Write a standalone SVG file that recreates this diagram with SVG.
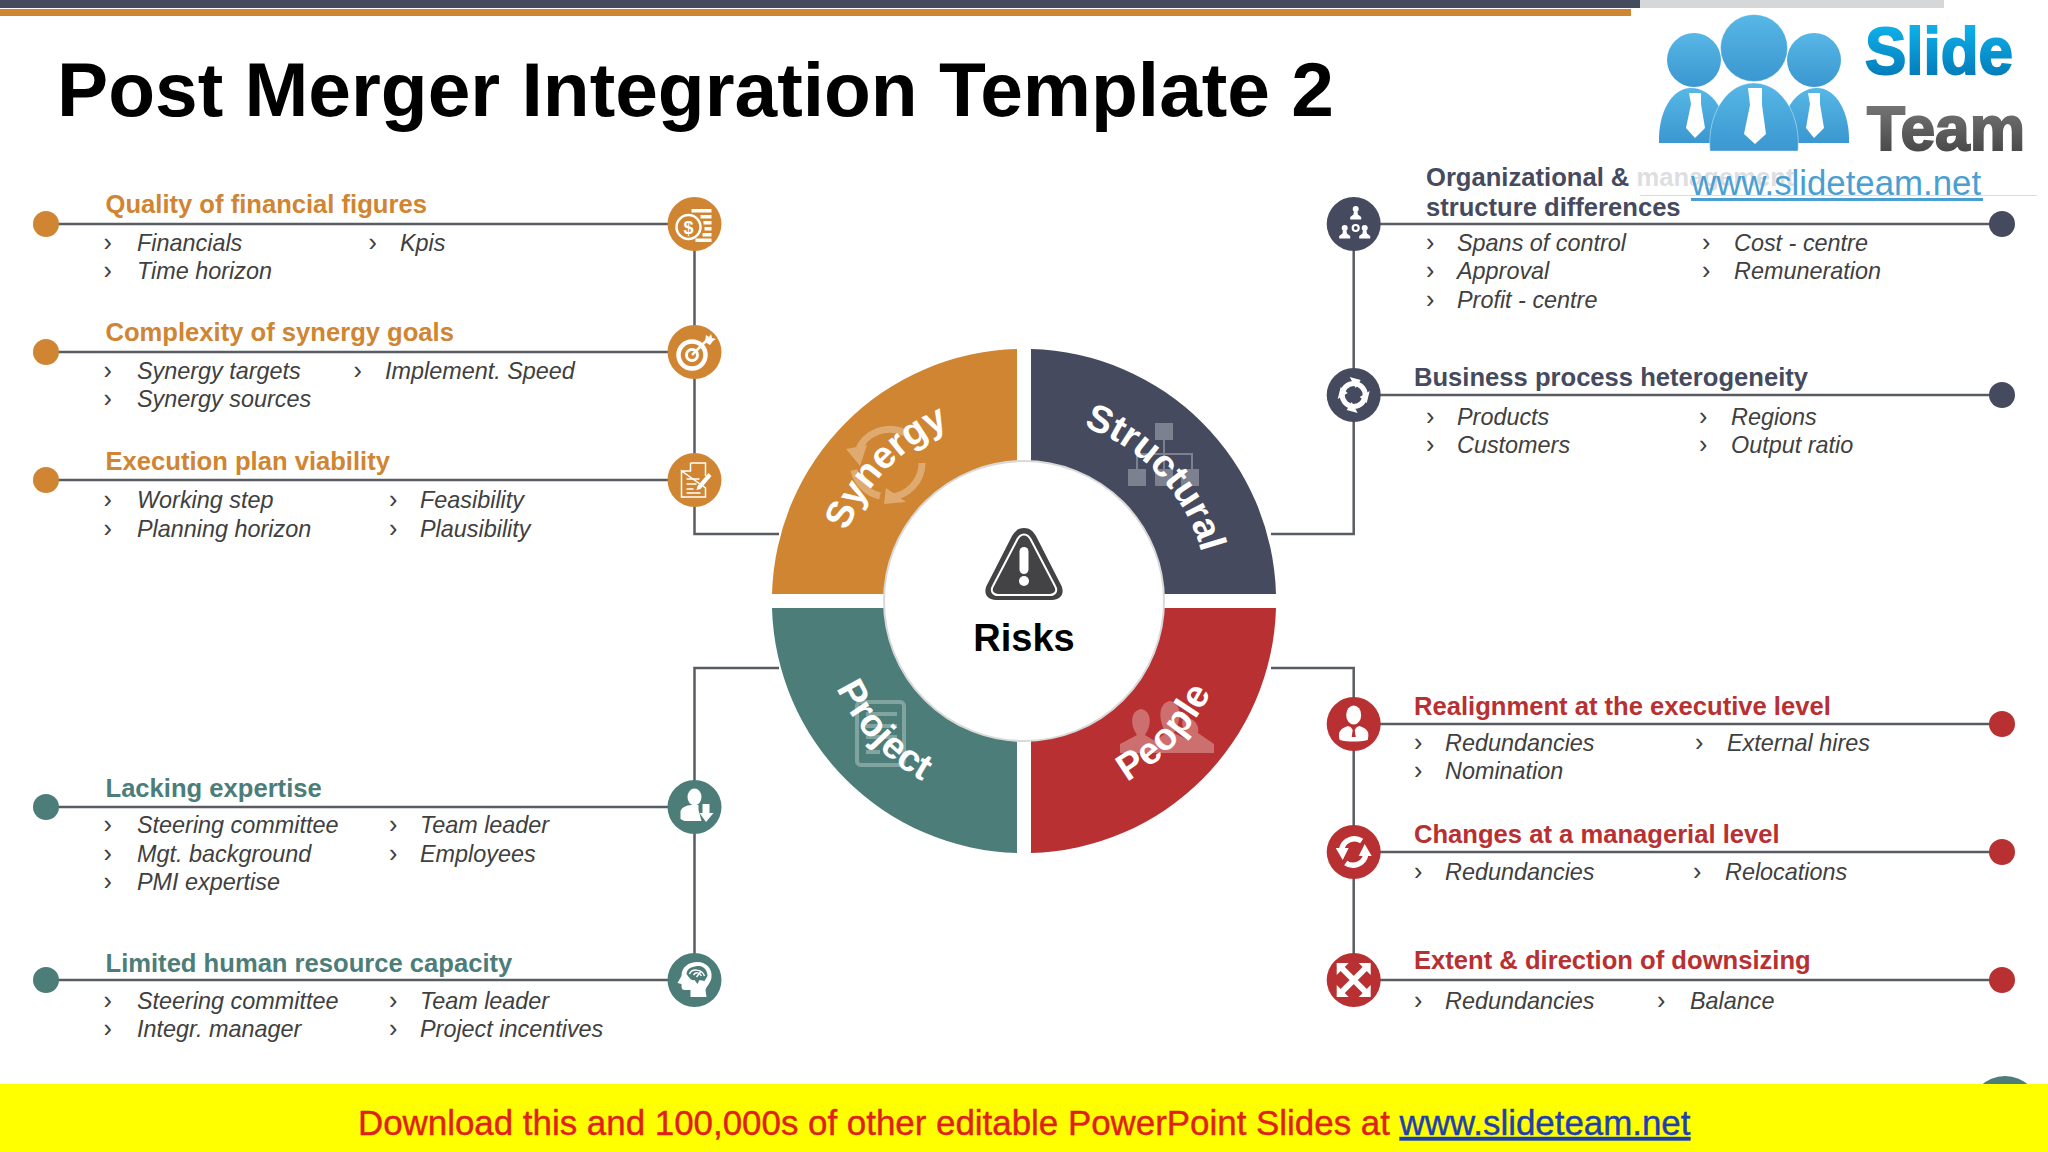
<svg xmlns="http://www.w3.org/2000/svg" width="2048" height="1152" viewBox="0 0 2048 1152">
<defs>
<linearGradient id="gS" x1="0" y1="0" x2="0" y2="1"><stop offset="0" stop-color="#12bdf5"/><stop offset="1" stop-color="#0070ae"/></linearGradient>
<linearGradient id="gT" x1="0" y1="0" x2="0" y2="1"><stop offset="0" stop-color="#808080"/><stop offset="1" stop-color="#3f3f3f"/></linearGradient>
<linearGradient id="gB" x1="0" y1="0" x2="0" y2="1"><stop offset="0" stop-color="#57b7e6"/><stop offset="1" stop-color="#3b97d0"/></linearGradient>
<path id="arcSyn" d="M834 601A190 190 0 0 1 1024 411"/>
<path id="arcStr" d="M1024 417A184 184 0 0 1 1208 601"/>
<path id="arcPro" d="M817 601A207 207 0 0 0 1024 808"/>
<path id="arcPeo" d="M1024 809A208 208 0 0 0 1232 601"/>
<g id="pers"><circle cx="0" cy="-6" r="3"/><path d="M-1.800-3.500H1.800L2.200-.5L5.500 2V4.500H-5.500V2L-2.200-.5Z"/></g>
</defs>
<style>
text{font-family:"Liberation Sans",Arial,sans-serif}
.h{font-weight:700;font-size:25.6px}
.org{fill:#d08532}.tea{fill:#4c7d78}.dar{fill:#454a5e}.red{fill:#b83031}
.s{font-style:italic;font-size:23.4px;fill:#404040}
.c{font-size:25px;fill:#404040}
.ln{stroke:#5a5c64;stroke-width:2.500;fill:none}
.w{fill:#fff}.wl{fill:none;stroke:#fff}
.r2{font-weight:700;font-size:38px;fill:#fff}
.wm{opacity:.3}
</style>
<rect width="2048" height="1152" fill="#fff"/>
<rect x="0" y="0" width="1640" height="8" fill="#454a5e"/>
<rect x="1640" y="0" width="304" height="8" fill="#d6d7d9"/>
<rect x="0" y="9" width="1631" height="7" fill="#d08532"/>
<text id="title" x="57" y="116" font-size="76.700" font-weight="700" fill="#000">Post Merger Integration Template 2</text>

<g id="connectors" class="ln">
<path d="M46 224H668M46 352H668M46 480H668M694.500 224V480M694.500 480V534H779"/>
<path d="M46 807H668M46 980H668M694.500 807V980M694.500 807V668H779"/>
<path d="M1380 224H2002M1380 395H2002M1353.700 224V534H1271"/>
<path d="M1380 724H2002M1380 852H2002M1380 980H2002M1353.700 980V668H1271"/>
</g>

<g id="ring">
<path class="org" d="M772 594A252 252 0 0 1 1017 349V461.200A140 140 0 0 0 884.200 594Z"/>
<path class="dar" d="M1276 594A252 252 0 0 0 1031 349V461.200A140 140 0 0 1 1163.800 594Z"/>
<path class="tea" d="M772 608A252 252 0 0 0 1017 853V740.800A140 140 0 0 1 884.200 608Z"/>
<path class="red" d="M1276 608A252 252 0 0 1 1031 853V740.800A140 140 0 0 0 1163.800 608Z"/>
<circle cx="1024" cy="601" r="140" fill="#fff" stroke="#d9d9d9" stroke-width="2"/>
<g class="wm">
<path class="wl" stroke-width="7" d="M858 451A34 34 0 0 1 905 433M922 463A34 34 0 0 1 890 497M880 496A34 34 0 0 1 854 470"/>
<path class="w" d="M846 449L867 445L860 466ZM886 488L906 502L884 504Z"/>
<path class="w" d="M1155 423H1173V440H1155ZM1128 469H1146V486H1128ZM1155 469H1173V486H1155ZM1181 469H1199V486H1181Z"/>
<path class="wl" stroke-width="2" d="M1137 469V454H1192V469M1164 440V469"/>
<rect class="wl" stroke-width="4" x="857" y="702" width="47" height="63" rx="4"/>
<path class="w" d="M866 712H897V716H866ZM866 724H897V728H866ZM866 735H897V739H866ZM866 750H880V754H866Z"/>
<path class="w" d="M1120 753V744L1137 735C1130 725 1130 711 1141 709C1152 711 1152 725 1145 735L1155 741L1150 753ZM1150 753L1155 741L1166 733C1158 720 1158 703 1170 701C1182 703 1182 720 1174 733L1190 741L1198 753ZM1190 741C1186 735 1180 726 1183 719C1192 716 1200 724 1198 733L1214 744V753H1198Z"/>
</g>
<text class="r2"><textPath href="#arcSyn" startOffset="49%" text-anchor="middle">Synergy</textPath></text>
<text class="r2"><textPath href="#arcStr" startOffset="52%" text-anchor="middle">Structural</textPath></text>
<text class="r2"><textPath href="#arcPro" startOffset="47.500%" text-anchor="middle">Project</textPath></text>
<text class="r2"><textPath href="#arcPeo" startOffset="52%" text-anchor="middle">People</textPath></text>
<g id="risks">
<path d="M1024 528C1018 528 1015 531 1012 536L988 583C982 593 987 600 996 600H1052C1061 600 1066 593 1060 583L1036 536C1033 531 1030 528 1024 528Z" fill="#434345"/>
<path d="M1024 534.500C1021 534.500 1019 536 1017 540L993 586C990 591 993 595 998 595H1050C1055 595 1058 591 1055 586L1031 540C1029 536 1027 534.500 1024 534.500Z" fill="none" stroke="#fff" stroke-width="2"/>
<rect x="1019.500" y="547" width="9" height="27" rx="4.500" fill="#fff"/>
<circle cx="1024" cy="581" r="5" fill="#fff"/>
<text x="1024" y="651" text-anchor="middle" font-size="38" font-weight="700" fill="#000">Risks</text>
</g>
</g>

<g id="n-quality">
<circle class="org" cx="46" cy="224" r="13"/><circle class="org" cx="694.500" cy="224" r="27"/>
<g transform="translate(694.500 224)"><circle cx="-6" cy="3" r="12" class="wl" stroke-width="2.500"/><path class="w" d="M-3-15H17V-11.500H-3ZM6-9H17V-5.500H6ZM9-3H17V.5H9ZM10 3H17V6.500H10ZM8 9H17V12.500H8ZM1 14.500H17V18H1Z"/><text x="-6" y="9.500" text-anchor="middle" font-size="18" font-weight="700" fill="#fff">$</text></g>
<text class="h org" x="105.500" y="213">Quality of financial figures</text>
<text class="c" x="103.500" y="251">›</text><text class="s" x="137" y="251">Financials</text>
<text class="c" x="103.500" y="279">›</text><text class="s" x="137" y="279">Time horizon</text>
<text class="c" x="368.500" y="251">›</text><text class="s" x="400" y="251">Kpis</text>
</g>
<g id="n-complexity">
<circle class="org" cx="46" cy="352" r="13"/><circle class="org" cx="694.500" cy="352" r="27"/>
<g transform="translate(692 355)"><circle r="13.500" class="wl" stroke-width="4.500"/><circle r="5.500" class="wl" stroke-width="3"/><path class="wl" stroke-width="2.500" d="M0 0L15-15"/><path class="w" d="M13-13L14-20L17-18L19-21L20-17L24-16L21-14L18-10Z"/></g>
<text class="h org" x="105.500" y="341">Complexity of synergy goals</text>
<text class="c" x="103.500" y="379">›</text><text class="s" x="137" y="379">Synergy targets</text>
<text class="c" x="103.500" y="407">›</text><text class="s" x="137" y="407">Synergy sources</text>
<text class="c" x="353.500" y="379">›</text><text class="s" x="385" y="379">Implement. Speed</text>
</g>
<g id="n-execution">
<circle class="org" cx="46" cy="480" r="13"/><circle class="org" cx="694.500" cy="480" r="27"/>
<g transform="translate(694.500 480)"><path class="wl" stroke-width="1.500" d="M-4-17H11V-4M11 8V17H-13V-9ZM-4-17V-9H-13"/><path class="wl" stroke-width="1.500" d="M-8-1H5M-8 4H2M-8 9H-1M-8 13H6"/><path class="w" d="M3 6L14-7L17-4L6 9L2 10Z"/></g>
<text class="h org" x="105.500" y="470">Execution plan viability</text>
<text class="c" x="103.500" y="508">›</text><text class="s" x="137" y="508">Working step</text>
<text class="c" x="103.500" y="537">›</text><text class="s" x="137" y="537">Planning horizon</text>
<text class="c" x="389" y="508">›</text><text class="s" x="420" y="508">Feasibility</text>
<text class="c" x="389" y="537">›</text><text class="s" x="420" y="537">Plausibility</text>
</g>
<g id="n-lacking">
<circle class="tea" cx="46" cy="807" r="13"/><circle class="tea" cx="694.500" cy="807" r="27"/>
<g transform="translate(694.500 807)"><ellipse class="w" cx="0" cy="-10" rx="7" ry="8.500"/><path class="w" d="M-14 12V5C-14 1-8-2-3-2H4V3L7 14H-10Z"/><path class="w" d="M8-3H15V6H19L11.500 15L5 6H8Z"/></g>
<text class="h tea" x="105.500" y="797">Lacking expertise</text>
<text class="c" x="103.500" y="833">›</text><text class="s" x="137" y="833">Steering committee</text>
<text class="c" x="103.500" y="862">›</text><text class="s" x="137" y="862">Mgt. background</text>
<text class="c" x="103.500" y="890">›</text><text class="s" x="137" y="890">PMI expertise</text>
<text class="c" x="389" y="833">›</text><text class="s" x="420" y="833">Team leader</text>
<text class="c" x="389" y="862">›</text><text class="s" x="420" y="862">Employees</text>
</g>
<g id="n-limited">
<circle class="tea" cx="46" cy="980" r="13"/><circle class="tea" cx="694.500" cy="980" r="27"/>
<g transform="translate(694.500 980)"><path class="w" d="M-4 17V10H-10C-13 10-13 7-13 4L-17 3L-13-4C-13-13-6-18 3-18C12-18 18-11 17-3C17 2 12 6 11 10L12 17Z"/><path fill="#4c7d78" d="M-8-6C-8-12-1-14 5-14C11-13 13-8 13-4L10 1L5 0L3 4L0 0C-3 1-5-2-8-6Z"/><path class="wl" stroke-width="1.500" d="M-5-6C-3-11 7-12 10-4M-1-5C1-8 5-8 7-4M2-3L6-8"/></g>
<text class="h tea" x="105.500" y="971.500">Limited human resource capacity</text>
<text class="c" x="103.500" y="1009">›</text><text class="s" x="137" y="1009">Steering committee</text>
<text class="c" x="103.500" y="1037">›</text><text class="s" x="137" y="1037">Integr. manager</text>
<text class="c" x="389" y="1009">›</text><text class="s" x="420" y="1009">Team leader</text>
<text class="c" x="389" y="1037">›</text><text class="s" x="420" y="1037">Project incentives</text>
</g>
<g id="n-organizational">
<circle class="dar" cx="2002" cy="224" r="13"/><circle class="dar" cx="1353.700" cy="224" r="27"/>
<g transform="translate(1353.700 224)" class="w"><use href="#pers" transform="translate(2 -9)"/><use href="#pers" transform="translate(-9 10)"/><use href="#pers" transform="translate(11 10)"/><circle cx="2" cy="4" r="3" class="wl" stroke-width="2.200"/></g>
<text class="h dar" x="1426" y="186">Organizational &amp; management</text>
<text class="h dar" x="1426" y="216">structure differences</text>
<text class="c" x="1426" y="251">›</text><text class="s" x="1457" y="251">Spans of control</text>
<text class="c" x="1426" y="279">›</text><text class="s" x="1457" y="279">Approval</text>
<text class="c" x="1426" y="308">›</text><text class="s" x="1457" y="308">Profit - centre</text>
<text class="c" x="1702" y="251">›</text><text class="s" x="1734" y="251">Cost - centre</text>
<text class="c" x="1702" y="279">›</text><text class="s" x="1734" y="279">Remuneration</text>
</g>
<g id="n-business">
<circle class="dar" cx="2002" cy="395" r="13"/><circle class="dar" cx="1353.700" cy="395" r="27"/>
<g transform="translate(1353.700 395)"><circle r="11.500" class="wl" stroke-width="5"/><path class="w" d="M-4-18L7-15L2-7ZM16-4L13 8L6 2ZM4 18L-7 15L-2 7ZM-16 4L-13-8L-6-2Z"/></g>
<text class="h dar" x="1414" y="385.500">Business process heterogeneity</text>
<text class="c" x="1426" y="425">›</text><text class="s" x="1457" y="425">Products</text>
<text class="c" x="1426" y="453">›</text><text class="s" x="1457" y="453">Customers</text>
<text class="c" x="1699" y="425">›</text><text class="s" x="1731" y="425">Regions</text>
<text class="c" x="1699" y="453">›</text><text class="s" x="1731" y="453">Output ratio</text>
</g>
<g id="n-realignment">
<circle class="red" cx="2002" cy="724" r="13"/><circle class="red" cx="1353.700" cy="724" r="27"/>
<g transform="translate(1353.700 724)"><ellipse class="w" cx="0" cy="-9" rx="7.500" ry="9.500"/><path class="w" d="M-14 16C-16 8-14 5-6 2L0 4L6 2C14 5 16 8 14 16C6 18-6 18-14 16Z"/><path fill="#b83031" d="M-3 3H3L1 6L2 13H-2L-1 6Z"/></g>
<text class="h red" x="1414" y="715">Realignment at the executive level</text>
<text class="c" x="1414" y="751">›</text><text class="s" x="1445" y="751">Redundancies</text>
<text class="c" x="1414" y="779">›</text><text class="s" x="1445" y="779">Nomination</text>
<text class="c" x="1695" y="751">›</text><text class="s" x="1727" y="751">External hires</text>
</g>
<g id="n-changes">
<circle class="red" cx="2002" cy="852" r="13"/><circle class="red" cx="1353.700" cy="852" r="27"/>
<g transform="translate(1353.700 852)"><path class="wl" stroke-width="5.500" d="M-12-3A13 13 0 0 1 8-11M12 3A13 13 0 0 1-8 11"/><path class="w" d="M-18-4H-5L-11 8ZM18 4H5L11-8Z"/></g>
<text class="h red" x="1414" y="842.500">Changes at a managerial level</text>
<text class="c" x="1414" y="880">›</text><text class="s" x="1445" y="880">Redundancies</text>
<text class="c" x="1693" y="880">›</text><text class="s" x="1725" y="880">Relocations</text>
</g>
<g id="n-extent">
<circle class="red" cx="2002" cy="980" r="13"/><circle class="red" cx="1353.700" cy="980" r="27"/>
<g transform="translate(1353.700 980)"><path class="wl" stroke-width="6" d="M-13-13L13 13M13-13L-13 13"/><path class="w" d="M-17-17H-5L-17-5ZM17-17H5L17-5ZM-17 17H-5L-17 5ZM17 17H5L17 5Z"/></g>
<text class="h red" x="1414" y="969">Extent &amp; direction of downsizing</text>
<text class="c" x="1414" y="1009">›</text><text class="s" x="1445" y="1009">Redundancies</text>
<text class="c" x="1657" y="1009">›</text><text class="s" x="1690" y="1009">Balance</text>
</g>

<g id="logo">
<rect x="1638" y="8" width="402" height="187" fill="#fff" opacity=".82"/>
<rect x="1640" y="195" width="397" height="1" fill="#dcdcdc"/>
<circle cx="1694" cy="60" r="27" fill="url(#gB)"/><circle cx="1814" cy="60" r="27" fill="url(#gB)"/>
<path d="M1659 143C1658 112 1672 88 1691 88C1712 88 1728 112 1728 143Z" fill="url(#gB)"/>
<path d="M1849 143C1850 112 1836 88 1817 88C1796 88 1780 112 1780 143Z" fill="url(#gB)"/>
<circle cx="1754" cy="48" r="33.500" fill="url(#gB)" stroke="#fff" stroke-opacity=".4"/>
<path d="M1710 151C1707 115 1726 83 1754 83C1782 83 1801 115 1798 151Z" fill="url(#gB)" stroke="#fff" stroke-opacity=".4"/>
<path class="w" d="M1689 93H1701V104L1705 128L1695 138L1686 128L1691 104ZM1748 88H1762V105L1766 134L1755 144L1744 134L1750 105ZM1808 93H1820V104L1824 128L1814 138L1806 128L1810 104Z"/>
<text x="1865" y="74" font-size="67" font-weight="700" fill="url(#gS)" stroke="url(#gS)" stroke-width="2" textLength="148" lengthAdjust="spacingAndGlyphs">Slide</text>
<text x="1867" y="150" font-size="63" font-weight="700" fill="url(#gT)" stroke="url(#gT)" stroke-width="2" textLength="158" lengthAdjust="spacingAndGlyphs">Team</text>
<text x="1691" y="195" font-size="34.800" fill="#4a9fd2">www.slideteam.net</text>
<rect x="1691" y="198" width="292" height="3" fill="#4a9fd2"/>
</g>

<g id="footer">
<circle cx="2005" cy="1111.600" r="35.600" class="tea"/>
<rect x="0" y="1084" width="2048" height="68" fill="#ffff00"/>
<text x="358" y="1135" font-size="34.900" fill="#e0201c" stroke="#e0201c" stroke-width=".4">Download this and 100,000s of other editable PowerPoint Slides at <tspan fill="#1f3fb0" stroke="#1f3fb0" text-decoration="underline">www.slideteam.net</tspan></text>
</g>
</svg>
